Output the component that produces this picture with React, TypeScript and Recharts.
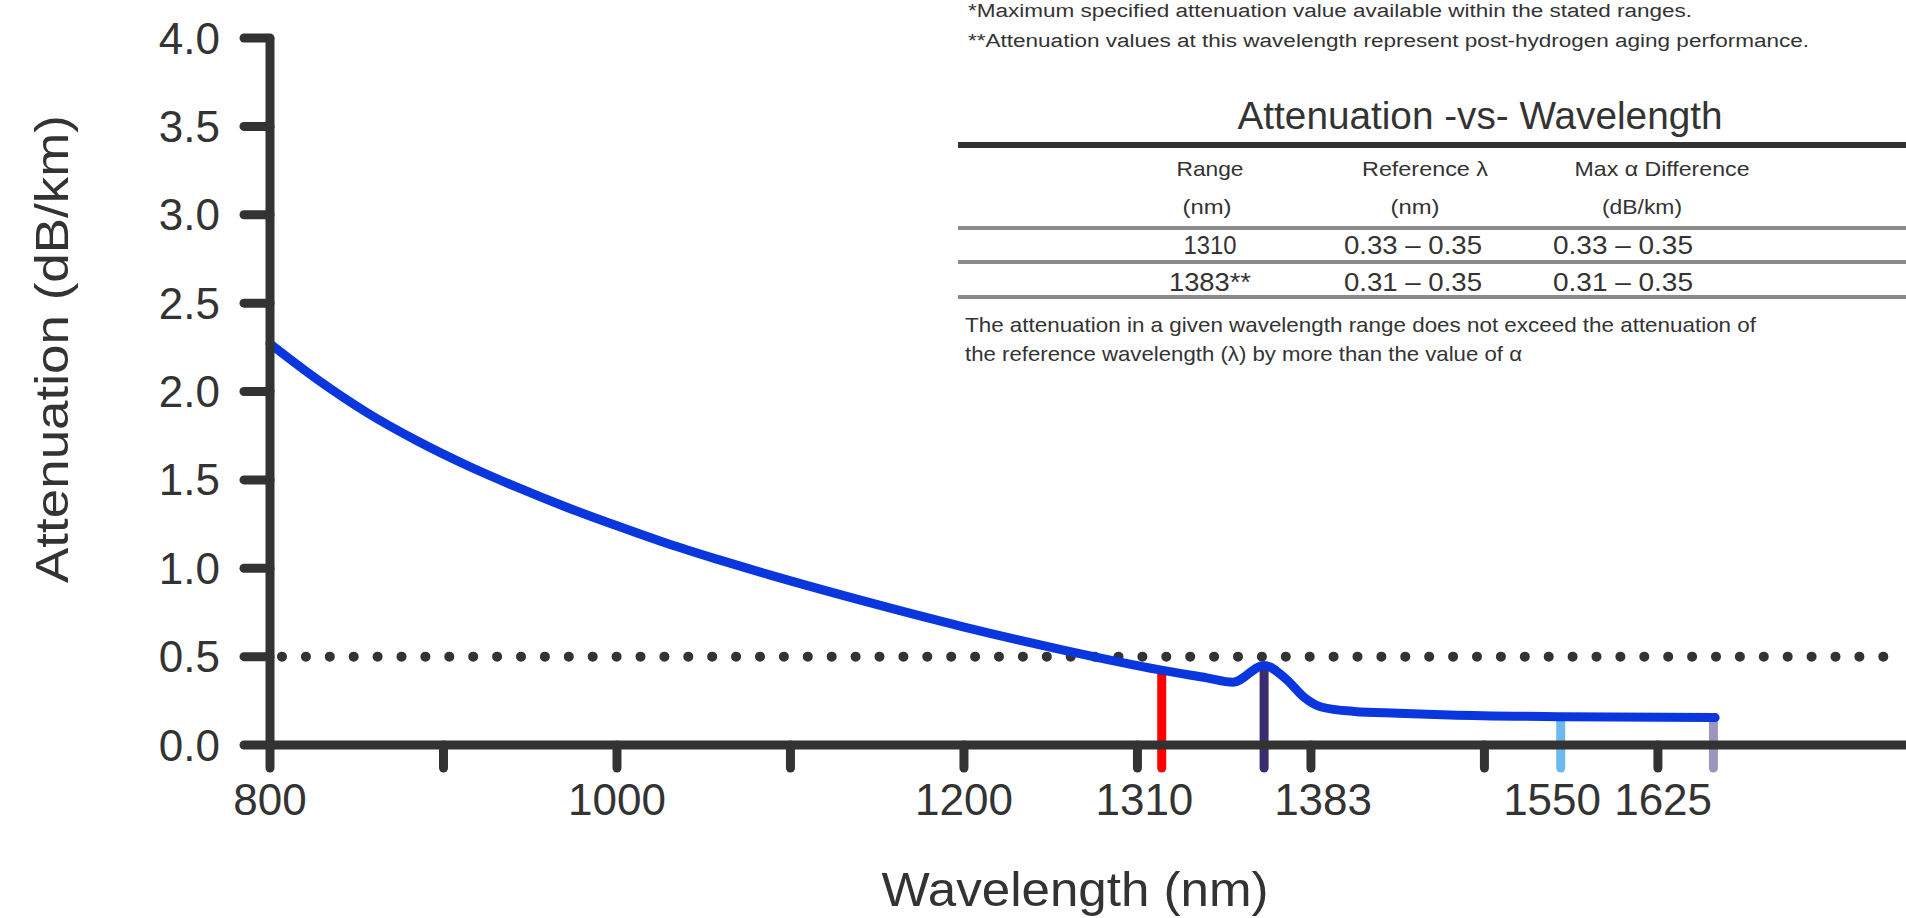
import React from 'react';
import { LineChart, Line, XAxis, YAxis, ReferenceLine } from 'recharts';

// ---- data ----
const wavelengths = [800, 827, 856, 885, 914, 942, 971, 1000, 1029, 1058, 1087, 1142, 1199, 1256, 1313, 1340, 1355, 1373, 1386, 1396, 1406, 1425, 1450, 1480, 1544, 1633];
const attenuation = [2.27, 2.07, 1.88, 1.72, 1.58, 1.46, 1.345, 1.24, 1.14, 1.05, 0.965, 0.815, 0.67, 0.54, 0.425, 0.38, 0.355, 0.45, 0.37, 0.27, 0.215, 0.19, 0.18, 0.17, 0.16, 0.155];

const markerWavelengths = [1314, 1373, 1544, 1632];
const markerTops = [0.4, 0.42, 0.15, 0.15];
const markerBottom = -0.13;
const specLimit = 0.5;

const yTicks = [0, 0.5, 1, 1.5, 2, 2.5, 3, 3.5, 4];
const xTickMarks = [800, 900, 1000, 1100, 1200, 1300, 1400, 1500, 1600];
const xTickLabelValues = [800, 1000, 1200, 1304, 1407, 1539, 1603];
const xTickLabels = ['800', '1000', '1200', '1310', '1383', '1550', '1625'];

const notes = [
  '*Maximum specified attenuation value available within the stated ranges.',
  '**Attenuation values at this wavelength represent post-hydrogen aging performance.',
];
const tableTitle = 'Attenuation -vs- Wavelength';
const tableHeaders = ['Range', 'Reference \u03bb', 'Max \u03b1 Difference'];
const tableUnits = ['(nm)', '(nm)', '(dB/km)'];
const tableRows = [
  ['1310', '0.33 \u2013 0.35', '0.33 \u2013 0.35'],
  ['1383**', '0.31 \u2013 0.35', '0.31 \u2013 0.35'],
];
const footnote = [
  'The attenuation in a given wavelength range does not exceed the attenuation of',
  'the reference wavelength (\u03bb) by more than the value of \u03b1',
];

// ---- styles ----
const FONT = "'Liberation Sans', Arial, sans-serif";
const AXIS = '#333333';
const CURVE = '#0a36de';
const markerColors = ['#ff0000', '#3b2c6e', '#6bb9ee', '#9d95bd'];

const data = wavelengths.map((wl, i) => ({ wl, att: attenuation[i] }));
const allXTicks = Array.from(new Set([...xTickMarks, ...xTickLabelValues])).sort((a, b) => a - b);

const XTick = (props: any) => {
  const { x, y, payload } = props;
  const v = payload.value;
  const isMark = xTickMarks.includes(v);
  const li = xTickLabelValues.indexOf(v);
  return (
    <g>
      {isMark && (
        <line x1={x} x2={x} y1={y} y2={y + 23} stroke={AXIS} strokeWidth={9} strokeLinecap="round" />
      )}
      {li >= 0 && (
        <text x={x} y={y + 70} textAnchor="middle" fontSize={44} fill={AXIS} fontFamily={FONT}>
          {xTickLabels[li]}
        </text>
      )}
    </g>
  );
};

const T = ({ x, y, size, len, anchor = 'start', children, weight = 400 }: any) => (
  <text
    x={x}
    y={y}
    fontSize={size}
    textLength={len}
    lengthAdjust="spacingAndGlyphs"
    textAnchor={anchor}
    fill="#333"
    fontWeight={weight}
    fontFamily={FONT}
  >
    {children}
  </text>
);

const headerLens = [67, 126, 175];
const unitLens = [49, 49, 80];
const rowLens = [
  [53, 138, 140],
  [82, 138, 140],
];

export default function App() {
  return (
    <div style={{ position: 'absolute', left: 0, top: 0, width: 1906, height: 918, background: '#fff' }}>
      <LineChart width={1906} height={918} data={data} margin={{ top: 38, right: 0, bottom: 0, left: 0 }}>
        <XAxis
          dataKey="wl"
          type="number"
          domain={[800, 1743]}
          ticks={allXTicks}
          interval={0}
          height={173}
          tickSize={0}
          tickMargin={0}
          axisLine={{ stroke: AXIS, strokeWidth: 9 }}
          tickLine={false}
          tick={<XTick />}
        />
        <YAxis
          type="number"
          domain={[0, 4]}
          ticks={yTicks}
          interval={0}
          width={270}
          tickSize={26}
          tickMargin={24}
          axisLine={{ stroke: AXIS, strokeWidth: 9 }}
          tickLine={{ stroke: AXIS, strokeWidth: 9, strokeLinecap: 'round' } as any}
          tick={{ fontSize: 44, fill: AXIS, fontFamily: FONT }}
          tickFormatter={(v: number) => v.toFixed(1)}
        />
        <ReferenceLine
          y={specLimit}
          stroke={AXIS}
          strokeWidth={10}
          strokeDasharray="0 23.9"
          strokeDashoffset={11.9}
          strokeLinecap="round"
          ifOverflow="visible"
        />
        {markerWavelengths.map((wl, i) => (
          <ReferenceLine
            key={wl}
            segment={[
              { x: wl, y: markerBottom },
              { x: wl, y: markerTops[i] },
            ]}
            stroke={markerColors[i]}
            strokeWidth={9}
            strokeLinecap="round"
            ifOverflow="visible"
          />
        ))}
        <Line
          type="monotone"
          dataKey="att"
          stroke={CURVE}
          strokeWidth={9}
          strokeLinecap="round"
          dot={false}
          activeDot={false}
          isAnimationActive={false}
        />
      </LineChart>
      <svg
        width={1906}
        height={918}
        style={{ position: 'absolute', left: 0, top: 0, pointerEvents: 'none' }}
      >
        <text
          x={52}
          y={349}
          transform="rotate(-90 52 349)"
          textAnchor="middle"
          dominantBaseline="central"
          fontSize={46}
          textLength={468}
          lengthAdjust="spacingAndGlyphs"
          fill={AXIS}
          fontFamily={FONT}
        >
          Attenuation (dB/km)
        </text>
        <T x={1075} y={906} size={48} len={387} anchor="middle">
          Wavelength (nm)
        </T>

        <T x={968} y={17} size={18} len={724}>{notes[0]}</T>
        <T x={968} y={47} size={18} len={841}>{notes[1]}</T>

        <T x={1480} y={129} size={38} len={485} anchor="middle">{tableTitle}</T>
        <line x1={958} x2={1906} y1={145} y2={145} stroke="#333" strokeWidth={6} />

        {tableHeaders.map((h, i) => (
          <T key={h} x={[1210, 1425, 1662][i]} y={176} size={21} len={headerLens[i]} anchor="middle">
            {h}
          </T>
        ))}
        {tableUnits.map((u, i) => (
          <T key={i} x={[1207, 1415, 1642][i]} y={214} size={21} len={unitLens[i]} anchor="middle">
            {u}
          </T>
        ))}
        <line x1={958} x2={1906} y1={228} y2={228} stroke="#8a8a8a" strokeWidth={4} />
        {tableRows.map((row, r) =>
          row.map((cell, c) => (
            <T
              key={r + '-' + c}
              x={[1210, 1413, 1623][c]}
              y={[254, 291][r]}
              size={26}
              len={rowLens[r][c]}
              anchor="middle"
            >
              {cell}
            </T>
          ))
        )}
        <line x1={958} x2={1906} y1={262} y2={262} stroke="#8a8a8a" strokeWidth={4} />
        <line x1={958} x2={1906} y1={297} y2={297} stroke="#8a8a8a" strokeWidth={4} />

        <T x={965} y={332} size={21} len={791}>{footnote[0]}</T>
        <T x={965} y={361} size={21} len={557}>{footnote[1]}</T>
      </svg>
    </div>
  );
}
